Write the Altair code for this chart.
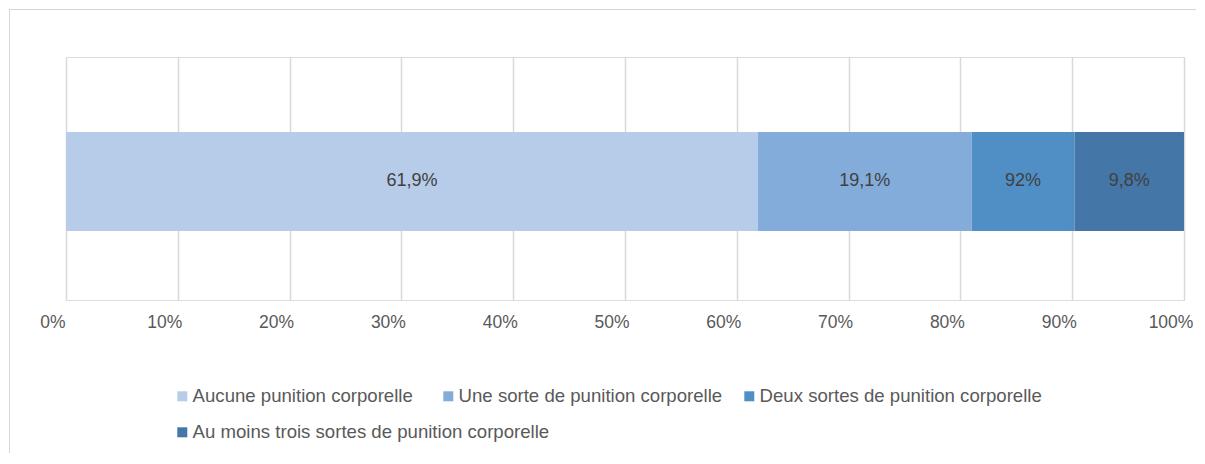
import altair as alt
import pandas as pd

categories = [
    "Aucune punition corporelle",
    "Une sorte de punition corporelle",
    "Deux sortes de punition corporelle",
    "Au moins trois sortes de punition corporelle",
]
values = [61.9, 19.1, 9.2, 9.8]
labels = ["61,9%", "19,1%", "92%", "9,8%"]
colors = ["#B7CCE8", "#84ACDA", "#508FC6", "#4477A8"]
x_ticks = [0, 10, 20, 30, 40, 50, 60, 70, 80, 90, 100]

# legend item placement (layout only): x, y relative to plot origin
legend_pos = [(107, 330), (373, 330), (674, 330), (107, 366)]

df = pd.DataFrame({
    "cat": categories,
    "value": values,
    "label": labels,
    "order": list(range(len(categories))),
    "grp": ["all"] * len(categories),
})

W, H = 1118, 243
FONT = "Liberation Sans"

base = alt.Chart(df).transform_stack(
    stack="value", groupby=["grp"], as_=["x0", "x1"],
    sort=[alt.SortField("order", order="ascending")],
).transform_calculate(mid="(datum.x0 + datum.x1) / 2")

xscale = alt.Scale(domain=[0, 100], nice=False, zero=True)
xaxis = alt.Axis(values=x_ticks, labelExpr="datum.value + '%'",
                 grid=True, gridColor="#D9D9D9", gridWidth=1.5,
                 ticks=False, domain=False, labelPadding=13,
                 labelFlush=False, labelAlign="center", labelOffset=-13.5,
                 labelFontSize=17.5, labelColor="#595959", labelFont=FONT)


def legend(x, y):
    return alt.Legend(title=None, orient="none", legendX=x, legendY=y,
                      direction="horizontal", symbolType="square",
                      symbolSize=100, symbolStrokeWidth=0, labelFontSize=18.6,
                      labelFont=FONT, labelColor="#595959",
                      labelOffset=1, padding=0, labelLimit=600)


layers = []
for i, cat in enumerate(categories):
    field = f"c{i}"
    lx, ly = legend_pos[i]
    layers.append(
        base.transform_filter(f"datum.order == {i}")
        .transform_calculate(**{field: "datum.cat"})
        .mark_bar(size=99, yOffset=3)
        .encode(
            x=alt.X("x0:Q", scale=xscale, title=None, axis=xaxis),
            x2="x1:Q",
            y=alt.Y("grp:N", axis=None, title=None),
            color=alt.Color(f"{field}:N",
                            scale=alt.Scale(domain=[cat], range=[colors[i]]),
                            legend=legend(lx, ly)),
        )
    )

texts = base.mark_text(fontSize=18, font=FONT, color="#404040", yOffset=2).encode(
    x=alt.X("mid:Q", scale=xscale),
    y=alt.Y("grp:N", axis=None),
    text="label:N",
)

top_line = alt.Chart(df).mark_rule(color="#D6D6D6", strokeWidth=1).encode(
    x=alt.value(-57), x2=alt.value(1130), y=alt.value(-47.5)
).transform_filter("datum.order == 0")
left_line = alt.Chart(df).mark_rule(color="#D6D6D6", strokeWidth=1).encode(
    x=alt.value(-56.5), y=alt.value(-48), y2=alt.value(396)
).transform_filter("datum.order == 0")

chart = alt.layer(*layers, texts, top_line, left_line).resolve_scale(
    color="independent"
).properties(
    width=W, height=H,
    padding={"left": 0, "top": 0, "right": 0, "bottom": 0},
).configure_view(stroke=None).configure(background="white")

chart.save("out.html", embed_options={"renderer": "svg", "actions": False})
